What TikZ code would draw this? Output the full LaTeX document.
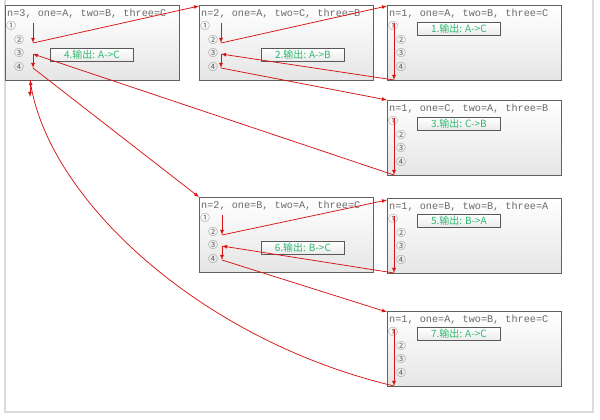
\documentclass[tikz,border=0pt]{standalone}
\usepackage{fontspec}
\setmonofont{Liberation Mono}
\newfontfamily\cjk{Noto Sans CJK SC}
\usepackage{tikz}
\usetikzlibrary{arrows}
\definecolor{arrowred}{RGB}{214,20,20}
\definecolor{outgreen}{RGB}{46,184,110}

\begin{document}
\begin{tikzpicture}[x=1pt,y=-1pt]
\tikzstyle{callbox}=[draw=black!62, line width=1.1pt, top color=white, bottom color=black!10, minimum width=174pt, minimum height=75pt, inner sep=0pt, anchor=north west]
\tikzstyle{hdr}=[anchor=west, inner sep=0pt, text=black!58, font=\ttfamily\fontsize{10.2}{12}\selectfont]
\tikzstyle{num}=[inner sep=0pt, text=black!62, font=\cjk\fontsize{9.5}{11}\selectfont]
\tikzstyle{printbox}=[draw=black!65, line width=0.8pt, top color=white, bottom color=black!8, minimum width=83pt, minimum height=13pt, inner sep=0pt, anchor=north west, text=outgreen, font=\cjk\fontsize{10}{11}\selectfont]
\tikzstyle{redarrow}=[->, >=latex, draw=arrowred, line width=0.75pt]
\useasboundingbox (0,0) rectangle (600,420);
\draw[black!14, line width=1.2pt] (5,0) -- (5,412) -- (593,412) -- (593,0);
\foreach \nm/\x/\y/\hd/\ax/\lx/\ly/\lb in {
 a/5/5/{n=3, one=A, two=B, three=C}/28/45/43/{4.输出: A->C},
 b/199/5/{n=2, one=A, two=C, three=B}/22/62/43/{2.输出: A->B},
 c/387/5/{n=1, one=A, two=B, three=C}/7/30/17/{1.输出: A->C},
 d/387/100/{n=1, one=C, two=A, three=B}/7/30/17/{3.输出: C->B},
 e/199/197/{n=2, one=B, two=A, three=C}/23/62/44/{6.输出: B->C},
 f/387/198/{n=1, one=B, two=B, three=A}/7/30/16/{5.输出: B->A},
 g/387/311/{n=1, one=A, two=B, three=C}/7/30/16/{7.输出: A->C}}
{
\draw (\x,\y) node (\nm) [callbox] {};
\draw (\x+2,\y+9) node (\nm h) [hdr] {\hd};
\draw (\x+6,\y+21) node (\nm n1) [num] {①};
\draw (\x+14,\y+35) node (\nm n2) [num] {②};
\draw (\x+14,\y+48) node (\nm n3) [num] {③};
\draw (\x+14,\y+62) node (\nm n4) [num] {④};
\draw (\x+\lx,\y+\ly) node (\nm o) [printbox] {\lb};
\coordinate (\nm p1) at (\x+\ax,\y+18);
\coordinate (\nm p2) at (\x+\ax,\y+38);
\coordinate (\nm p3) at (\x+\ax,\y+49);
\coordinate (\nm p4) at (\x+\ax,\y+63);
\coordinate (\nm pb) at (\x+\ax,\y+75);
}
\coordinate (aend) at (30,80);
\coordinate (done) at (30,97);
\draw[redarrow] (ap1) -- (ap2);
\draw[redarrow] (ap2) -- ([yshift=-1pt]b.north west);
\draw[redarrow] (bp1) -- (bp2);
\draw[redarrow] (bp2) -- ([yshift=-1pt]c.north west);
\draw[redarrow] (cp1) -- (cpb);
\draw[redarrow] (cpb) -- (bp3);
\draw[redarrow] (bp3) -- (bp4);
\draw[redarrow] (bp4) -- (d.north west);
\draw[redarrow] (dp1) -- (dpb);
\draw[redarrow] (dpb) -- (ap3);
\draw[redarrow] (ap3) -- (ap4);
\draw[redarrow] (ap4) -- (e.north west);
\draw[redarrow] (ep1) -- (ep2);
\draw[redarrow] (ep2) -- ([yshift=-2pt]f.north west);
\draw[redarrow] (fp1) -- (fpb);
\draw[redarrow] (fpb) -- (ep3);
\draw[redarrow] (ep3) -- (ep4);
\draw[redarrow] (ep4) -- ([yshift=-1pt]g.north west);
\draw[redarrow] (gp1) -- (gpb);
\draw[redarrow] (gpb) .. controls (200,340) and (50,200) .. (aend);
\draw[redarrow] (aend) -- (done);
\end{tikzpicture}
\end{document}
